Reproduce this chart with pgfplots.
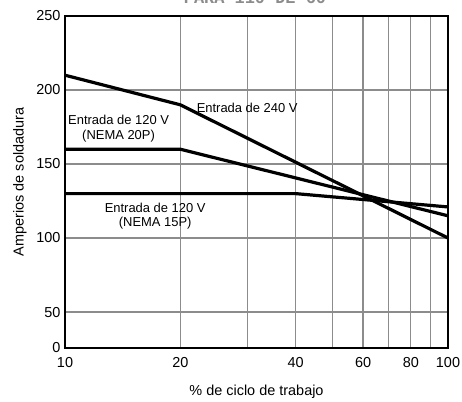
\documentclass[border=0pt]{standalone}
\usepackage{fontspec}
\setmainfont{Liberation Sans}
\setmonofont{Liberation Mono}
\usepackage{pgfplots}
\pgfplotsset{compat=1.18}
\begin{document}
\begin{tikzpicture}
\begin{axis}[
  at={(0,0)}, anchor=south west,
  scale only axis, width=383bp, height=332bp,
  xmode=log, xmin=10, xmax=100, ymin=25.7, ymax=250,
  xtick={10,20,40,60,80,100}, xticklabels={10,20,40,60,80,100},
  minor xtick={30,50,70,90},
  ytick={25.7,50,100,150,200,250}, yticklabels={0,50,100,150,200,250},
  grid=both,
  major grid style={draw=black!45, line width=1.1bp},
  minor grid style={draw=black!45, line width=1.1bp},
  major tick length=0pt, minor tick length=0pt,
  axis line style={line width=1.6bp},
  tick label style={font=\fontsize{14.5}{16}\selectfont},
  xticklabel style={yshift=-6bp},
  yticklabel style={xshift=-1bp},
  xlabel={\% de ciclo de trabajo}, ylabel={Amperios de soldadura},
  label style={font=\fontsize{14.5}{17}\selectfont},
  xlabel style={yshift=-10bp},
  ylabel style={yshift=3bp},
]
\addplot[black, line width=3.2bp] coordinates {(10,210) (20,190) (100,100)};
\addplot[black, line width=3.2bp] coordinates {(10,160) (20,160) (100,115)};
\addplot[black, line width=3.2bp] coordinates {(10,130) (40,130) (100,121)};
\node[font=\fontsize{13}{14.5}\selectfont] at (axis cs:29.9,187.8) {Entrada de 240 V};
\node[font=\fontsize{13}{14.5}\selectfont, align=center] at (axis cs:13.8,174) {Entrada de 120 V\\(NEMA 20P)};
\node[font=\fontsize{13}{14.5}\selectfont, align=center] at (axis cs:17.2,114.9) {Entrada de 120 V\\(NEMA 15P)};
\end{axis}
\node[font=\fontsize{17}{17}\ttfamily\bfseries, text=black!45, anchor=base] at (190bp,344bp) {PARA 110 DE 60};
\pgfresetboundingbox
\useasboundingbox (-65bp,-54bp) rectangle (397bp,348bp);
\end{tikzpicture}
\end{document}
